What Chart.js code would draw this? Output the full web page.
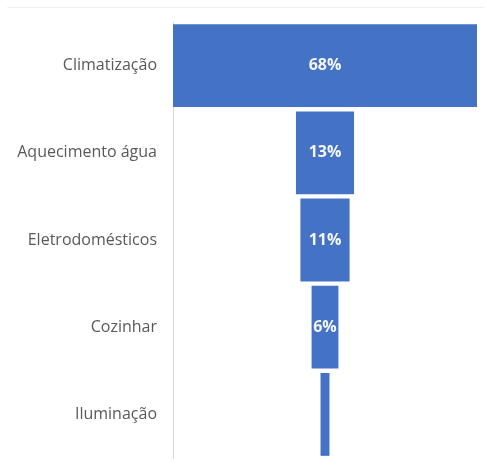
<!DOCTYPE html>
<html>
<head>
<meta charset="utf-8">
<script src="https://cdn.jsdelivr.net/npm/chart.js@4"></script>
<style>
  html, body { margin: 0; padding: 0; background: #fff; }
  .wrap { position: relative; width: 487px; height: 469px; }
  .topline { position: absolute; left: 7px; top: 7px; width: 477px; height: 1px; background: #f0f0f0; }
  canvas { display: block; }
</style>
</head>
<body>
<div class="wrap">
  <div class="topline"></div>
  <canvas id="funnel" width="487" height="469"></canvas>
</div>
<script>
const categories = ['Climatização', 'Aquecimento água', 'Eletrodomésticos', 'Cozinhar', 'Iluminação'];
const shares = [68, 13, 11, 6, 2];

// funnel: each bar is centred on zero
const spans = shares.map(v => [-v / 2, v / 2]);
const half = Math.max(...shares) / 2;

const centreLabels = {
  id: 'centreLabels',
  afterDatasetsDraw(chart) {
    const ctx = chart.ctx;
    const meta = chart.getDatasetMeta(0);
    ctx.save();
    ctx.font = 'bold 16px "Open Sans", sans-serif';
    ctx.fillStyle = '#f4f6fb';
    ctx.textAlign = 'center';
    ctx.textBaseline = 'middle';
    meta.data.forEach((bar, i) => {
      const text = shares[i] + '%';
      const w = Math.abs(bar.x - bar.base);
      if (w < ctx.measureText(text).width * 0.8) return;
      ctx.fillText(text, (bar.x + bar.base) / 2, bar.y);
    });
    ctx.restore();
  }
};

const FUNNEL = document.getElementById('funnel');
let funnelChart = new Chart(FUNNEL, {
  type: 'bar',
  data: {
    labels: categories,
    datasets: [{
      data: spans,
      backgroundColor: '#4472c4',
      borderWidth: 0,
      barPercentage: 0.95,
      categoryPercentage: 1
    }]
  },
  options: {
    indexAxis: 'y',
    responsive: false,
    animation: false,
    layout: { padding: { top: 22, right: 10, bottom: 11, left: 0 } },
    plugins: { legend: { display: false }, tooltip: { enabled: false } },
    scales: {
      x: { display: false, min: -half, max: half },
      y: {
        grid: { display: false },
        border: { display: true, color: '#d9d9d9', width: 1 },
        ticks: {
          color: '#595959',
          padding: 8,
          font: { family: '"Open Sans", sans-serif', size: 16 }
        },
        afterFit(scale) {
          scale.width = 173;
          // labels sit mid-band, so no extra room is needed above or below
          scale.paddingTop = 0;
          scale.paddingBottom = 0;
        }
      }
    }
  },
  plugins: [centreLabels]
});
</script>
</body>
</html>
